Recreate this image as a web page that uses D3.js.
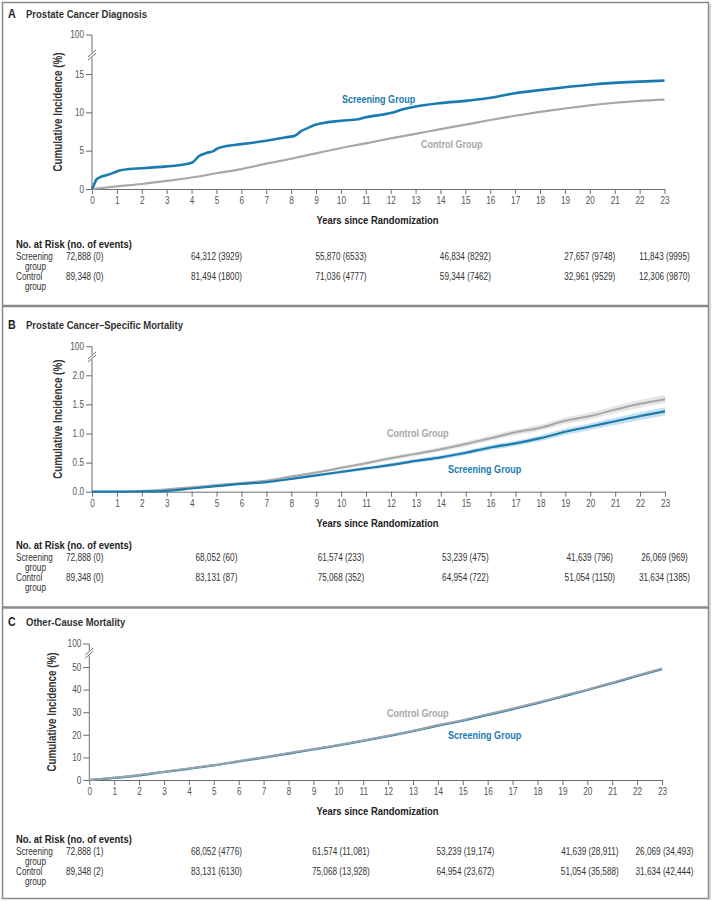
<!DOCTYPE html>
<html>
<head>
<meta charset="utf-8">
<script src="https://cdn.jsdelivr.net/npm/d3@7"></script>
<style>
body { margin: 0; background: #fff; }
svg text { font-family: "Liberation Sans", Arial, sans-serif; }
</style>
</head>
<body>
<svg id="chart"></svg>
<script>
// ---- Panel A: prostate cancer diagnosis ----
let diagScreenYears = [0, 0.1, 0.17, 0.3, 0.58, 0.85, 1.1, 1.5, 2, 3, 3.8, 4.05, 4.3, 4.6, 4.85, 5.05, 5.4, 6, 7, 7.8, 8.15, 8.4, 8.7, 8.95, 9.35, 10, 10.7, 11, 12, 12.5, 13, 14, 15, 16, 17, 18, 19, 20, 21, 22, 23]
let diagScreen = [0, 0.7, 1.2, 1.5, 1.8, 2.1, 2.4, 2.6, 2.7, 2.95, 3.25, 3.5, 4.3, 4.7, 4.9, 5.3, 5.6, 5.85, 6.3, 6.75, 6.95, 7.55, 8.0, 8.35, 8.65, 8.9, 9.1, 9.35, 9.9, 10.4, 10.75, 11.2, 11.5, 11.9, 12.5, 12.9, 13.27, 13.6, 13.84, 14.0, 14.14]
let diagControlYears = [0, 1, 2, 3, 4, 5, 6, 7, 8, 9, 10, 11, 12, 13, 14, 15, 16, 17, 18, 19, 20, 21, 22, 23]
let diagControl = [0, 0.35, 0.65, 1.05, 1.5, 2.05, 2.6, 3.3, 3.95, 4.65, 5.35, 5.96, 6.6, 7.2, 7.8, 8.4, 9.0, 9.55, 10.05, 10.5, 10.9, 11.25, 11.5, 11.66]

// ---- Panel B: prostate cancer-specific mortality ----
let pcmYears = [0, 1, 2, 3, 4, 5, 6, 7, 8, 9, 10, 11, 12, 13, 14, 15, 16, 17, 18, 19, 20, 21, 22, 23]
let pcmControl = [0, 0, 0.01, 0.04, 0.075, 0.115, 0.15, 0.19, 0.26, 0.33, 0.41, 0.49, 0.575, 0.65, 0.73, 0.82, 0.92, 1.02, 1.10, 1.22, 1.30, 1.41, 1.51, 1.59]
let pcmScreen = [0, 0, 0.005, 0.015, 0.055, 0.095, 0.135, 0.165, 0.22, 0.28, 0.34, 0.40, 0.46, 0.53, 0.59, 0.67, 0.76, 0.83, 0.92, 1.03, 1.12, 1.21, 1.30, 1.38]
let pcmControlHalf = [0, 0, 0.005, 0.01, 0.012, 0.015, 0.018, 0.02, 0.022, 0.025, 0.028, 0.03, 0.033, 0.036, 0.039, 0.042, 0.045, 0.048, 0.052, 0.056, 0.06, 0.064, 0.068, 0.072]
let pcmScreenHalf = [0, 0, 0.005, 0.008, 0.01, 0.013, 0.016, 0.018, 0.02, 0.023, 0.026, 0.028, 0.031, 0.034, 0.037, 0.04, 0.043, 0.046, 0.05, 0.054, 0.058, 0.062, 0.066, 0.07]

// ---- Panel C: other-cause mortality ----
let ocmYears = [0, 1, 2, 3, 4, 5, 6, 7, 8, 9, 10, 11, 12, 13, 14, 15, 16, 17, 18, 19, 20, 21, 22, 23]
let ocmControl = [0, 1.0, 2.2, 3.7, 5.1, 6.6, 8.4, 10.1, 11.9, 13.7, 15.5, 17.5, 19.6, 21.8, 24.3, 26.5, 29.1, 31.6, 34.3, 37.2, 40.0, 43.1, 46.3, 49.3]
let ocmScreen = [0, 0.9, 2.05, 3.55, 4.95, 6.45, 8.2, 9.9, 11.7, 13.5, 15.3, 17.3, 19.4, 21.6, 24.0, 26.3, 28.8, 31.3, 34.0, 36.9, 39.8, 42.8, 46.0, 49.0]

// ---- number at risk tables ----
let riskYears = [0, 5, 10, 15, 20, 23]
let diagRiskScreen = ['72,888 (0)', '64,312 (3929)', '55,870 (6533)', '46,834 (8292)', '27,657 (9748)', '11,843 (9995)']
let diagRiskControl = ['89,348 (0)', '81,494 (1800)', '71,036 (4777)', '59,344 (7462)', '32,961 (9529)', '12,306 (9870)']
let pcmRiskScreen = ['72,888 (0)', '68,052 (60)', '61,574 (233)', '53,239 (475)', '41,639 (796)', '26,069 (969)']
let pcmRiskControl = ['89,348 (0)', '83,131 (87)', '75,068 (352)', '64,954 (722)', '51,054 (1150)', '31,634 (1385)']
let ocmRiskScreen = ['72,888 (1)', '68,052 (4776)', '61,574 (11,081)', '53,239 (19,174)', '41,639 (28,911)', '26,069 (34,493)']
let ocmRiskControl = ['89,348 (2)', '83,131 (6130)', '75,068 (13,928)', '64,954 (23,672)', '51,054 (35,588)', '31,634 (42,444)']

let xTicks = [0, 1, 2, 3, 4, 5, 6, 7, 8, 9, 10, 11, 12, 13, 14, 15, 16, 17, 18, 19, 20, 21, 22, 23]

let blue = '#1b7bb0'
let gray = '#a7a7a7'
let axisColor = '#6d6d6d'

let width = 717
let height = 901

let svg = d3.select('#chart').attr('width', width).attr('height', height)

// frame and separators
svg.append('rect')
    .attr('x', 2.5).attr('y', 2.5)
    .attr('width', 706).attr('height', 896)
    .attr('fill', 'none').attr('stroke', '#8a8a8a').attr('stroke-width', 1.5)
svg.append('line').attr('x1', 710).attr('x2', 710).attr('y1', 4).attr('y2', 900)
    .attr('stroke', '#c8c8c8').attr('stroke-width', 1.5)
svg.append('line').attr('x1', 2).attr('x2', 709).attr('y1', 306).attr('y2', 306)
    .attr('stroke', '#8a8a8a').attr('stroke-width', 2.5)
svg.append('line').attr('x1', 2).attr('x2', 709).attr('y1', 607.5).attr('y2', 607.5)
    .attr('stroke', '#8a8a8a').attr('stroke-width', 2.5)

let panels = [
    {
        letter: 'A', title: 'Prostate Cancer Diagnosis', titleY: 18,
        xLeft: 92, xRight: 664.5, yZero: 189, yMaxPx: 74, yMax: 15, yTop: 35, breakY: 55,
        yTicks: [0, 5, 10, 15], fmt: d3.format('d'), yLabelX: 58,
        series: [
            { years: diagControlYears, values: diagControl, color: gray, w: 2.2 },
            { years: diagScreenYears, values: diagScreen, color: blue, w: 2.6 }
        ],
        labels: [
            { text: 'Screening Group', x: 342, y: 102.5, color: blue },
            { text: 'Control Group', x: 421, y: 148, color: gray }
        ],
        tableY: 247.5, riskScreen: diagRiskScreen, riskControl: diagRiskControl
    },
    {
        letter: 'B', title: 'Prostate Cancer\u2013Specific Mortality', titleY: 329,
        xLeft: 92, xRight: 665, yZero: 491.7, yMaxPx: 375.3, yMax: 2, yTop: 346.7, breakY: 357,
        yTicks: [0, 0.5, 1, 1.5, 2], fmt: d3.format('.1f'), yLabelX: 58,
        bands: [
            { years: pcmYears, values: pcmControl, half: pcmControlHalf, fill: '#e2e2e2' },
            { years: pcmYears, values: pcmScreen, half: pcmScreenHalf, fill: '#bcdaeb' }
        ],
        series: [
            { years: pcmYears, values: pcmControl, color: gray, w: 2 },
            { years: pcmYears, values: pcmScreen, color: blue, w: 2.2 }
        ],
        labels: [
            { text: 'Control Group', x: 387, y: 436.5, color: gray },
            { text: 'Screening Group', x: 448, y: 472.5, color: blue }
        ],
        tableY: 548.5, riskScreen: pcmRiskScreen, riskControl: pcmRiskControl
    },
    {
        letter: 'C', title: 'Other-Cause Mortality', titleY: 625.5,
        xLeft: 89.3, xRight: 662, yZero: 780, yMaxPx: 667, yMax: 50, yTop: 644, breakY: 653,
        yTicks: [0, 10, 20, 30, 40, 50], fmt: d3.format('d'), yLabelX: 52,
        series: [
            { years: ocmYears, values: ocmScreen, color: blue, w: 2.2 },
            { years: ocmYears, values: ocmControl, color: '#9aa3aa', w: 2 }
        ],
        labels: [
            { text: 'Control Group', x: 387, y: 716.5, color: gray },
            { text: 'Screening Group', x: 448, y: 738.5, color: blue }
        ],
        tableY: 842.5, riskScreen: ocmRiskScreen, riskControl: ocmRiskControl
    }
]

drawPanel = (p) => {
    let g = svg.append('g')

    let xScale = d3.scaleLinear().domain([0, 23]).range([p.xLeft, p.xRight])
    let yScale = d3.scaleLinear().domain([0, p.yMax]).range([p.yZero, p.yMaxPx])
    // table columns follow panel A's spacing in every panel
    let tableScale = d3.scaleLinear().domain([0, 23]).range([92, 664.5])

    // title
    g.append('text').attr('x', 8).attr('y', p.titleY)
        .attr('font-size', 13).attr('font-weight', 'bold').attr('fill', '#222')
        .text(p.letter)
    g.append('text').attr('x', 26).attr('y', p.titleY)
        .attr('font-size', 11.6).attr('font-weight', 'bold').attr('fill', '#333')
        .text(p.title)

    // confidence bands
    if (p.bands) {
        p.bands.forEach((b) => {
            let area = d3.area()
                .x((d, i) => xScale(b.years[i]))
                .y0((d, i) => yScale(b.values[i] - b.half[i]))
                .y1((d, i) => yScale(b.values[i] + b.half[i]))
                .curve(d3.curveMonotoneX)
            g.append('path').datum(b.values).attr('d', area)
                .attr('fill', b.fill).attr('opacity', 0.85)
        })
    }

    // x axis
    let xAxis = d3.axisBottom(xScale).tickValues(xTicks).tickSize(5).tickSizeOuter(0).tickPadding(3)
    let gx = g.append('g').attr('transform', 'translate(0,' + p.yZero + ')').call(xAxis)
    gx.select('.domain').attr('stroke', axisColor)
    gx.selectAll('.tick line').attr('stroke', axisColor)
    gx.selectAll('.tick text').attr('font-size', 10).attr('fill', '#555')

    // y axis (lower part)
    let yAxis = d3.axisLeft(yScale).tickValues(p.yTicks).tickFormat(p.fmt).tickSize(6).tickSizeOuter(0).tickPadding(2)
    let gy = g.append('g').attr('transform', 'translate(' + p.xLeft + ',0)').call(yAxis)
    gy.select('.domain').remove()
    gy.selectAll('.tick line').attr('stroke', axisColor)
    gy.selectAll('.tick text').attr('font-size', 10).attr('fill', '#555')

    // y axis line, broken
    g.append('line').attr('x1', p.xLeft).attr('x2', p.xLeft)
        .attr('y1', p.yZero).attr('y2', p.breakY + 2.5).attr('stroke', axisColor)
    g.append('line').attr('x1', p.xLeft).attr('x2', p.xLeft)
        .attr('y1', p.breakY - 2.5).attr('y2', p.yTop).attr('stroke', axisColor)
    // 100 tick
    g.append('line').attr('x1', p.xLeft - 6).attr('x2', p.xLeft)
        .attr('y1', p.yTop).attr('y2', p.yTop).attr('stroke', axisColor)
    g.append('text').attr('x', p.xLeft - 8).attr('y', p.yTop).attr('dy', '0.32em')
        .attr('text-anchor', 'end').attr('font-size', 10).attr('fill', '#555')
        .text('100')
    // break marks
    ;[-1.6, 1.6].forEach((o) => {
        g.append('line')
            .attr('x1', p.xLeft - 4).attr('y1', p.breakY + o + 3.5)
            .attr('x2', p.xLeft + 4).attr('y2', p.breakY + o - 3.5)
            .attr('stroke', axisColor).attr('stroke-width', 1)
    })

    // axis titles
    g.append('text')
        .attr('transform', 'translate(' + p.yLabelX + ',' + ((p.yTop + p.yZero) / 2) + ') rotate(-90)')
        .attr('text-anchor', 'middle').attr('dy', '0.35em')
        .attr('font-size', 12).attr('font-weight', 'bold').attr('fill', '#333')
        .text('Cumulative Incidence (%)')
    g.append('text').attr('x', 377.5).attr('y', p.yZero + 35)
        .attr('text-anchor', 'middle').attr('font-size', 11.5).attr('font-weight', 'bold').attr('fill', '#222')
        .text('Years since Randomization')

    // curves
    p.series.forEach((s) => {
        let line = d3.line()
            .x((d, i) => xScale(s.years[i]))
            .y((d) => yScale(d))
            .curve(d3.curveMonotoneX)
        g.append('path').datum(s.values).attr('d', line)
            .attr('fill', 'none').attr('stroke', s.color).attr('stroke-width', s.w)
            .attr('stroke-linejoin', 'round')
    })

    // series labels
    p.labels.forEach((l) => {
        g.append('text').attr('x', l.x).attr('y', l.y)
            .attr('font-size', 11).attr('font-weight', 'bold').attr('fill', l.color)
            .text(l.text)
    })

    // number at risk
    let t = g.append('g').attr('font-size', 10).attr('fill', '#333')
    t.append('text').attr('x', 16).attr('y', p.tableY)
        .attr('font-size', 11.5).attr('font-weight', 'bold').attr('fill', '#222')
        .text('No. at Risk (no. of events)')
    let rows = [
        { name: 'Screening', dy: 12, values: p.riskScreen },
        { name: 'Control', dy: 32.5, values: p.riskControl }
    ]
    rows.forEach((r) => {
        t.append('text').attr('x', 16).attr('y', p.tableY + r.dy).attr('fill', '#333').text(r.name)
        t.append('text').attr('x', 25).attr('y', p.tableY + r.dy + 10).attr('fill', '#333').text('group')
        t.selectAll(null)
            .data(r.values)
            .enter()
            .append('text')
            .attr('x', (d, i) => i === 0 ? 66 : tableScale(riskYears[i]))
            .attr('y', p.tableY + r.dy)
            .attr('text-anchor', (d, i) => i === 0 ? 'start' : 'middle')
            .attr('fill', '#333')
            .text((d) => d)
    })
}

panels.forEach((p) => drawPanel(p))

// narrow every label the way a condensed face would
svg.selectAll('text').each(function () {
    let w = this.getComputedTextLength()
    d3.select(this).attr('textLength', w * 0.82).attr('lengthAdjust', 'spacingAndGlyphs')
})
</script>
</body>
</html>
